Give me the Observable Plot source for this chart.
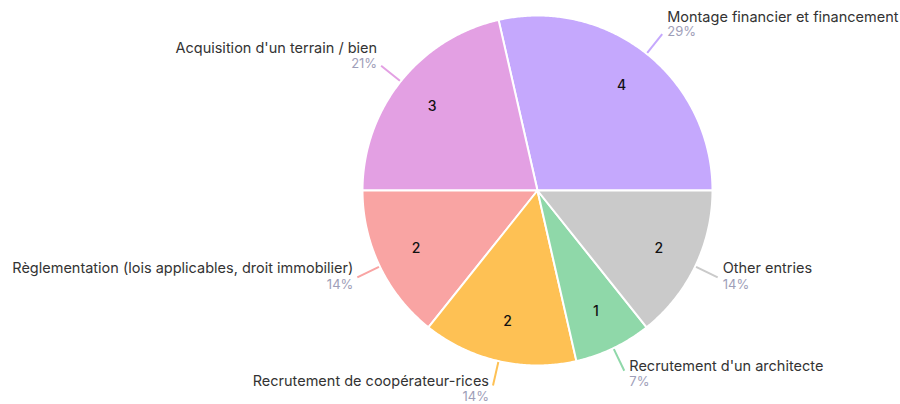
<!DOCTYPE html>
<html>
<head>
<meta charset="utf-8">
<script src="https://cdn.jsdelivr.net/npm/d3@7"></script>
<script src="https://cdn.jsdelivr.net/npm/@observablehq/plot@0.6"></script>
<style>
  html, body { margin: 0; padding: 0; background: #fff; }
  #chart svg { display: block; }
</style>
</head>
<body>
<div id="chart"></div>
<script>
// ---- data ----
const categories = [
  "Montage financier et financement",
  "Acquisition d'un terrain / bien",
  "Règlementation (lois applicables, droit immobilier)",
  "Recrutement de coopérateur-rices",
  "Recrutement d'un architecte",
  "Other entries"
];
const counts = [4, 3, 2, 2, 1, 2];
const percentLabels = ["29%", "21%", "14%", "14%", "7%", "14%"];
const colors = ["#c5a8fd", "#e3a0e3", "#f9a4a3", "#fec154", "#8fd8a9", "#cacaca"];

// ---- geometry (pie layout via d3) ----
const R = 175;
const pie = d3.pie().sort(null).value(d => d.count)
  .startAngle(Math.PI / 2).endAngle(Math.PI / 2 - 2 * Math.PI);
const slices = pie(categories.map((c, i) => ({category: c, count: counts[i], pct: percentLabels[i]})));

const polar = (a, r) => [r * Math.sin(a), r * Math.cos(a)];

const polyPts = [];
slices.forEach(s => {
  const a0 = s.startAngle, a1 = s.endAngle;
  const n = Math.max(8, Math.ceil(Math.abs(a1 - a0) / (Math.PI / 360)));
  polyPts.push({category: s.data.category, x: 0, y: 0});
  for (let k = 0; k <= n; k++) {
    const [x, y] = polar(a0 + (a1 - a0) * k / n, R);
    polyPts.push({category: s.data.category, x, y});
  }
});

const info = slices.map(s => {
  const mid = (s.startAngle + s.endAngle) / 2;
  const [ix, iy] = polar(mid, R * 0.77);
  const [x1, y1] = polar(mid, R + 1);
  const [x2, y2] = polar(mid, R + 25);
  const right = Math.sin(mid) > 0;
  const c = Math.cos(mid);
  const top = c > 0.5, bottom = c < -0.5;
  const nameY = top ? y2 + 17 : bottom ? y2 + 4.5 : y2 + 8.5;
  const pctY = top ? y2 + 2 : bottom ? y2 - 11 : y2 - 7.5;
  return {category: s.data.category, count: s.data.count, pct: s.data.pct,
          ix, iy, x1, y1, x2, y2, right, nameY, pctY};
});

const textFont = "Inter, 'Noto Sans', sans-serif";
const nameStyle = {fill: "#333", fontSize: 14.5};
const pctStyle = {fill: "#9e9eb8", fontSize: 13};

const chart = Plot.plot({
  width: 900,
  height: 404,
  margin: 0,
  x: {domain: [-R, R], range: [362, 712], axis: null},
  y: {domain: [-R, R], range: [365, 15], axis: null},
  color: {domain: categories, range: colors},
  style: {fontFamily: textFont, background: "#fff"},
  marks: [
    Plot.line(polyPts, {x: "x", y: "y", z: "category", fill: "category",
      stroke: "#fff", strokeWidth: 2, curve: "linear-closed", strokeLinejoin: "round"}),
    Plot.link(info, {x1: "x1", y1: "y1", x2: "x2", y2: "y2", stroke: "category", strokeWidth: 2}),
    Plot.text(info, {x: "ix", y: "iy", text: d => String(d.count), fill: "#111", fontSize: 14, fontWeight: 500}),
    Plot.text(info.filter(d => d.right), {x: "x2", y: "nameY", text: "category",
      textAnchor: "start", dx: 5, ...nameStyle}),
    Plot.text(info.filter(d => !d.right), {x: "x2", y: "nameY", text: "category",
      textAnchor: "end", dx: -4, ...nameStyle}),
    Plot.text(info.filter(d => d.right), {x: "x2", y: "pctY", text: "pct",
      textAnchor: "start", dx: 5, ...pctStyle}),
    Plot.text(info.filter(d => !d.right), {x: "x2", y: "pctY", text: "pct",
      textAnchor: "end", dx: -4, ...pctStyle})
  ]
});
document.getElementById("chart").appendChild(chart);
</script>
</body>
</html>
